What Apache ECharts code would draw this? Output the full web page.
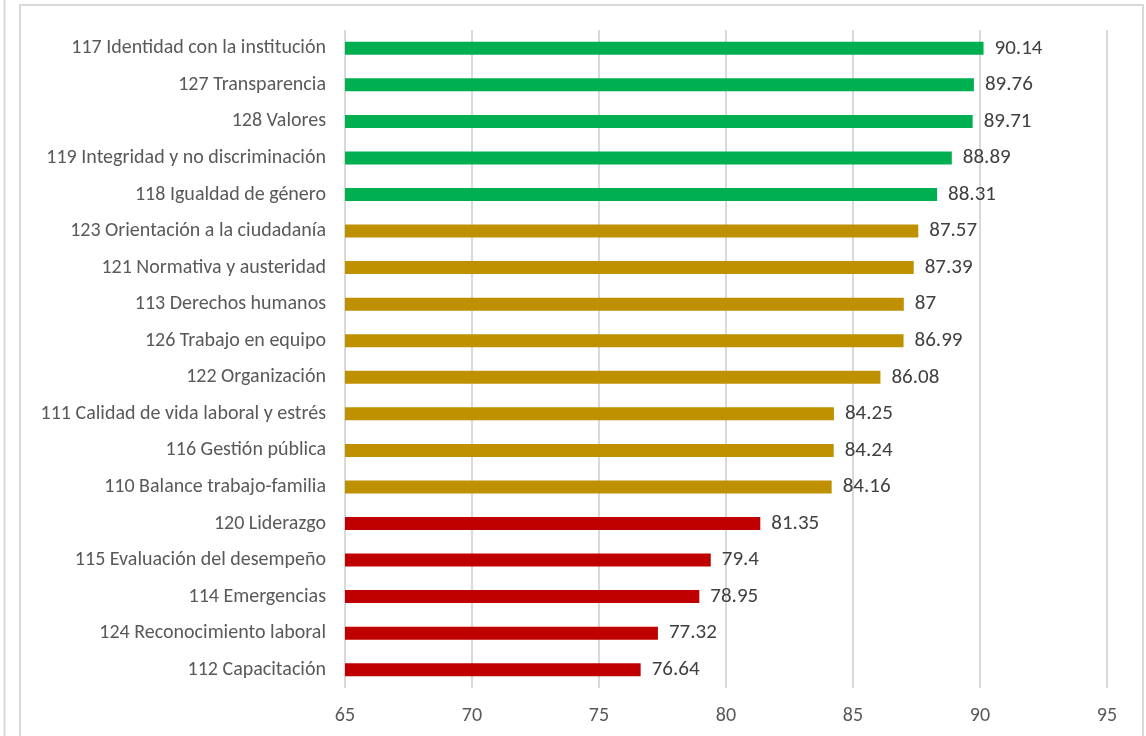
<!DOCTYPE html>
<html>
<head>
<meta charset="utf-8">
<script src="https://cdn.jsdelivr.net/npm/echarts@6/dist/echarts.min.js"></script>
<style>
  html, body { margin: 0; padding: 0; background: #ffffff; }
  #chart { width: 1146px; height: 736px; }
</style>
</head>
<body>
<div id="chart"></div>
<script>
// Dimensiones del clima laboral, de mayor a menor puntaje
const categories = [
  '117 Identidad con la institución',
  '127 Transparencia',
  '128 Valores',
  '119 Integridad y no discriminación',
  '118 Igualdad de género',
  '123 Orientación a la ciudadanía',
  '121 Normativa y austeridad',
  '113 Derechos humanos',
  '126 Trabajo en equipo',
  '122 Organización',
  '111 Calidad de vida laboral y estrés',
  '116 Gestión pública',
  '110 Balance trabajo-familia',
  '120 Liderazgo',
  '115 Evaluación del desempeño',
  '114 Emergencias',
  '124 Reconocimiento laboral',
  '112 Capacitación'
];
const scores = [90.14, 89.76, 89.71, 88.89, 88.31, 87.57, 87.39, 87, 86.99, 86.08,
                84.25, 84.24, 84.16, 81.35, 79.4, 78.95, 77.32, 76.64];
// Nivel de cada dimensión: alto, medio, bajo
const levels = ['alto', 'alto', 'alto', 'alto', 'alto',
                'medio', 'medio', 'medio', 'medio', 'medio', 'medio', 'medio', 'medio',
                'bajo', 'bajo', 'bajo', 'bajo', 'bajo'];
const levelColors = { alto: '#00b050', medio: '#bf9000', bajo: '#c00000' };
const xTicks = { min: 65, max: 95, interval: 5 };

const FONT = 'Carlito, Calibri, "Open Sans", "Noto Sans", sans-serif';
const chart = echarts.init(document.getElementById('chart'), null, { renderer: 'canvas' });

chart.setOption({
  animation: false,
  backgroundColor: '#ffffff',
  grid: { left: 345, right: 39, top: 30, bottom: 48, containLabel: false },
  xAxis: {
    type: 'value',
    min: xTicks.min,
    max: xTicks.max,
    interval: xTicks.interval,
    axisLine: { show: false },
    axisTick: { show: false },
    axisLabel: { color: '#595959', fontSize: 20, fontFamily: FONT, margin: 18 },
    splitLine: { show: true, lineStyle: { color: '#d9d9d9', width: 2 } }
  },
  yAxis: {
    type: 'category',
    data: categories,
    inverse: true,
    axisLine: { show: false },
    axisTick: { show: false },
    axisLabel: { color: '#595959', fontSize: 20, fontFamily: FONT, margin: 19 },
    splitLine: { show: false }
  },
  series: [{
    type: 'bar',
    barWidth: 13,
    data: scores.map((v, i) => ({
      value: v,
      itemStyle: { color: levelColors[levels[i]] }
    })),
    label: {
      show: true,
      position: 'right',
      distance: 11,
      color: '#404040',
      fontSize: 21,
      fontFamily: FONT
    }
  }],
  graphic: [
    { type: 'line', silent: true, shape: { x1: 4.5, y1: 0, x2: 4.5, y2: 736 },
      style: { stroke: '#d9d9d9', lineWidth: 2 } },
    { type: 'polyline', silent: true,
      shape: { points: [[20, 736], [20, 5], [1143, 5], [1143, 736]] },
      style: { stroke: '#d9d9d9', lineWidth: 2, fill: null } }
  ]
});
</script>
</body>
</html>
